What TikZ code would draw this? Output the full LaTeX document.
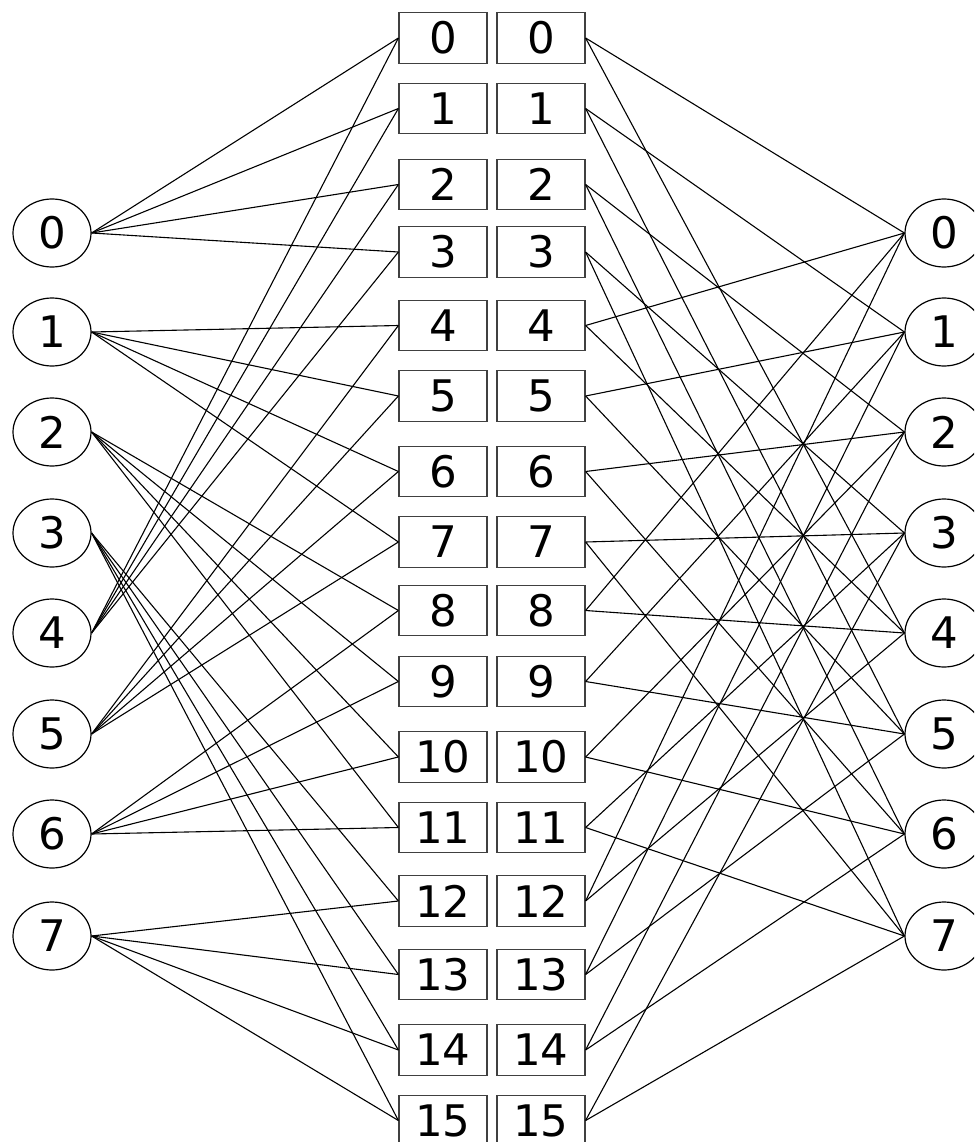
\documentclass[tikz,border=0pt]{standalone}
\usepackage{fontspec}
\setmainfont{DejaVu Sans}
\usetikzlibrary{shapes.geometric}
\begin{document}
\begin{tikzpicture}[x=1pt,y=-1pt,
  lbl/.style={font=\fontsize{43.5}{50}\selectfont, inner sep=0pt},
  circ/.style={lbl, ellipse, draw=black, line width=1.2pt, minimum width=78pt, minimum height=68pt},
  cell/.style={lbl, rectangle, draw=black!75, line width=1.2pt, minimum width=88pt, minimum height=50.5pt},
  link/.style={draw=black, line width=1.1pt}]
\clip (0,0) rectangle (974,1142);
\fill[white] (0,0) rectangle (974,1142);
% circle rows
\foreach \i/\y in {0/233,1/332,2/432,3/533,4/633,5/734,6/834,7/936}{
  \node[circ] (L\i) at (52,\y) {\i};
  \node[circ] (R\i) at (944,\y) {\i};
}
% box rows
\foreach \j/\y in {0/38,1/108.5,2/184.5,3/252,4/325.5,5/396,6/471.5,7/542,8/610.5,9/681.5,10/757,11/827.5,12/901,13/974.5,14/1050,15/1120.5}{
  \node[cell] (A\j) at (443,\y) {\j};
  \node[cell] (B\j) at (541,\y) {\j};
}
% left circles to left boxes
\foreach \i in {0,1,2,3}{
  \pgfmathtruncatemacro{\k}{\i+4}
  \foreach \m in {0,1,2,3}{
    \pgfmathtruncatemacro{\j}{4*\i+\m}
    \draw[link] (L\i.east) -- (A\j.west);
    \draw[link] (L\k.east) -- (A\j.west);
  }
}
% right boxes to right circles
\foreach \j in {0,...,15}{
  \pgfmathtruncatemacro{\a}{mod(\j,4)}
  \pgfmathtruncatemacro{\b}{mod(\j,4)+4}
  \draw[link] (B\j.east) -- (R\a.west);
  \draw[link] (B\j.east) -- (R\b.west);
}
\end{tikzpicture}
\end{document}
